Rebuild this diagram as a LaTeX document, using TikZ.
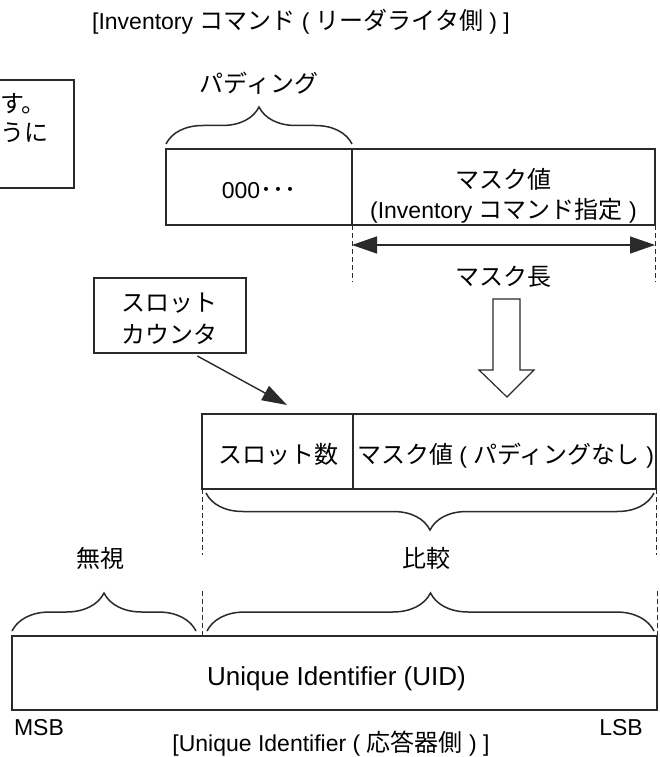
\documentclass[tikz,border=0pt]{standalone}
\usepackage{fontspec}
\setmainfont{Liberation Sans}
\newfontfamily\jpfont{Noto Sans CJK JP}
\newcommand\J[1]{{\jpfont\fontsize{24}{30}\selectfont #1}}
\usetikzlibrary{arrows.meta,decorations.pathreplacing,calc}
\definecolor{linec}{HTML}{2A2A2A}
\tikzset{
  box/.style={draw=linec, line width=1.4pt, inner sep=0pt, outer sep=0pt, rectangle},
  lbl/.style={inner sep=0pt, anchor=base, font=\fontsize{23}{30}\selectfont},
  biglbl/.style={inner sep=0pt, anchor=base, font=\fontsize{26}{32}\selectfont},
  dashln/.style={draw=linec, line width=1pt, dash pattern=on 5pt off 3pt},
  brc/.style={draw=linec, line width=1.5pt, decorate, decoration={brace, amplitude=#1}},
  tipline/.style={draw=linec, line width=1.4pt, -{Triangle[length=25pt,width=16pt]}},
  dbltip/.style={draw=linec, line width=1.4pt, {Triangle[length=25pt,width=17pt]}-{Triangle[length=25pt,width=17pt]}},
}
\begin{document}
\begin{tikzpicture}[x=1pt,y=-1pt]
\useasboundingbox (0,0) rectangle (659,757);
\fill[white] (0,0) rectangle (659,757);
\clip (0,0) rectangle (659,757);

% title
\node[lbl] (title) at (301,30) {[Inventory \J{コマンド} ( \J{リーダライタ側} ) ]};

% partial note box (cut at left edge)
\draw[draw=linec, line width=1.4pt] (-10,80) -- (74,80) -- (74,188) -- (-10,188);
\node[lbl, anchor=base west] (note1) at (0,113) {\J{す。}};
\node[lbl, anchor=base west] (note2) at (0,141) {\J{うに}};

% command fields
\node[box, minimum width=186pt, minimum height=76pt] (pad) at (259,187) {};
\node[box, minimum width=303pt, minimum height=76pt] (mask) at (503.5,187) {};
\node[lbl] (padtxt) at (259,198) {000\J{･･･}};
\node[lbl] (masktxt1) at (503.5,188) {\J{マスク値}};
\node[lbl] (masktxt2) at (503.5,218) {(Inventory \J{コマンド指定} )};

% padding brace
\draw[brc=37pt] ($(pad.north west)+(0,-5)$) -- ($(pad.north east)+(0,-5)$);
\node[lbl] (padlbl) at (259,93) {\J{パディング}};

% mask length
\draw[dashln] (mask.south west) -- ++(0,57);
\draw[dashln] (mask.south east) -- ++(0,57);
\coordinate (mlenL) at (352,245);
\coordinate (mlenR) at (655,245);
\draw[dbltip] (mlenL) -- (mlenR);
\node[lbl] (mlenlbl) at (503.5,285) {\J{マスク長}};

% hollow down arrow
\draw[draw=linec, line width=1.2pt, fill=white]
  (493,299) -- (520,299) -- (520,370) -- (534,370) -- (507,397) -- (479,370) -- (493,370) -- cycle;

% slot counter
\node[box, minimum width=152pt, minimum height=75pt] (cnt) at (170,315.5) {};
\node[lbl] (cnt1) at (169,311) {\J{スロット}};
\node[lbl] (cnt2) at (169,343) {\J{カウンタ}};
\coordinate (cntTip) at (287,405);
\draw[tipline] ($(cnt.south)!0.36!(cnt.south east)+(0,3)$) -- (cntTip);

% slot + mask (no padding)
\node[box, minimum width=151pt, minimum height=75pt] (slot) at (277.5,451.5) {};
\node[box, minimum width=303pt, minimum height=75pt] (maskv) at (504.5,451.5) {};
\node[lbl] (slottxt) at (278,463) {\J{スロット数}};
\node[lbl] (maskvtxt) at (505.5,463) {\J{マスク値} ( \J{パディングなし} )};

\draw[brc=37pt] ($(maskv.south east)+(-2,4)$) -- ($(slot.south west)+(4,4)$);
\draw[dashln] (slot.south west) -- ++(0,66);
\draw[dashln] (maskv.south east) -- ++(0,66);

\node[lbl] (ignore) at (100,567) {\J{無視}};
\node[lbl] (compare) at (426,567) {\J{比較}};

% UID
\node[box, minimum width=645pt, minimum height=74pt] (uid) at (334.5,673) {};
\node[biglbl] (uidtxt) at (336.5,685) {Unique Identifier (UID)};
\draw[dashln] ($(uid.north west)+(190,0)$) -- ++(0,-46);
\draw[dashln] (uid.north east) -- ++(0,-46);
\draw[brc=38pt] ($(uid.north west)+(0,-5)$) -- ($(uid.north west)+(184,-5)$);
\draw[brc=38pt] ($(uid.north west)+(195,-5)$) -- ($(uid.north east)+(-3,-5)$);

\node[lbl] (msb) at (39,735) {MSB};
\node[lbl] (lsb) at (621,735) {LSB};
\node[lbl] (btitle) at (331,751) {[Unique Identifier ( \J{応答器側} ) ]};
\end{tikzpicture}
\end{document}
